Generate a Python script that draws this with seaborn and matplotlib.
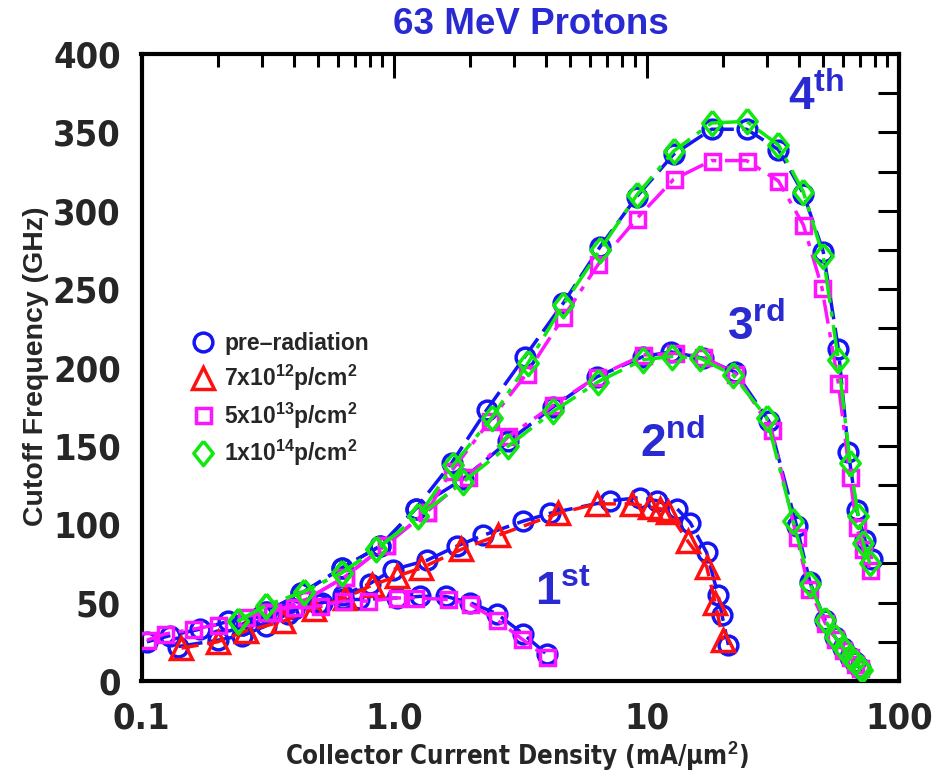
import numpy as np
import pandas as pd
import matplotlib
matplotlib.use('Agg')
import matplotlib.pyplot as plt
import seaborn as sns
from matplotlib.lines import Line2D
from matplotlib.font_manager import FontProperties, fontManager
from matplotlib.ticker import FixedLocator, FixedFormatter, NullFormatter, MultipleLocator

# ---------------- data ----------------
# 1st generation
pre1_x = [0.105, 0.13, 0.17, 0.22, 0.3, 0.4, 0.52, 0.63, 0.73, 1.03, 1.27, 1.6, 2.0, 2.55, 3.25, 4.03]
pre1_y = [25, 29, 33, 38, 42, 46, 50, 52, 52, 53, 54, 54, 50, 43, 30, 17]
m1_x = [0.105, 0.124, 0.16, 0.2, 0.26, 0.31, 0.4, 0.51, 0.63, 0.79, 1.03, 1.21, 1.64, 2.0, 2.55, 3.2, 4.03]
m1_y = [26, 30, 33, 36, 41, 44, 47, 48, 51, 51, 53, 53, 52, 49, 39, 27, 15]

# 2nd generation
pre2_x = [0.14, 0.2, 0.25, 0.31, 0.38, 0.5, 0.63, 0.8, 0.99, 1.35, 1.77, 2.26, 3.25, 4.15, 7.2, 9.4, 11.0, 13.2, 14.9, 17.3, 19.2, 19.9, 21.1]
pre2_y = [22, 26, 29, 35, 43, 49, 55, 62, 71, 77, 86, 93, 102, 107, 115, 117, 115, 110, 101, 82, 55, 42, 23]
r2_x = [0.144, 0.2, 0.26, 0.363, 0.48, 0.64, 0.816, 1.03, 1.28, 1.85, 2.59, 4.47, 6.35, 8.74, 10.3, 11.3, 12.2, 14.6, 17.3, 18.7, 20.1]
r2_y = [21, 25, 32, 38, 46, 53, 61, 67, 72, 84, 93, 107, 113, 113, 111, 110, 108, 89, 73, 50, 26]

# 3rd generation
pre3_x = [0.25, 0.31, 0.43, 0.62, 0.88, 1.22, 1.88, 2.84, 4.28, 6.35, 9.71, 12.5, 16.7, 22.5, 30.5, 39.3, 44.4, 50.9, 55.8, 60.2, 64.0, 67.0, 70.1]
pre3_y = [36, 44, 56, 72, 86, 110, 129, 153, 175, 194, 207, 210, 206, 197, 166, 99, 63, 39, 28, 21, 15, 12, 8]
m3_x = [0.33, 0.45, 0.64, 0.93, 1.35, 1.96, 2.84, 4.28, 6.35, 9.71, 13.0, 16.7, 22.5, 31.3, 39.3, 44.0, 51.0, 56.0, 60.0, 64.0, 67.0, 70.0]
m3_y = [44, 52, 66.5, 87, 108, 130, 156, 176, 194, 208, 209, 207, 196, 160, 92, 59, 37, 27, 20, 15, 11, 8]
g3_x = [0.24, 0.31, 0.44, 0.62, 0.85, 1.25, 1.88, 2.84, 4.28, 6.45, 9.71, 12.6, 16.3, 22.1, 29.9, 38.1, 44.4, 50.9, 55.8, 60.2, 64.0, 67.0, 70.1, 71.3]
g3_y = [38, 48, 57, 69, 84, 105, 127, 150, 172, 191, 205, 207, 206, 195, 168, 102, 62, 39, 28, 21, 15.5, 12, 9, 7]

# 4th generation
pre4_x = [0.25, 0.31, 0.43, 0.62, 0.88, 1.22, 1.69, 2.33, 3.30, 4.68, 6.55, 9.15, 12.8, 18.1, 24.9, 33.3, 41.8, 50.1, 57.5, 63.0, 68.0, 73.3, 77.9]
pre4_y = [36, 44, 56, 72, 86, 110, 139, 173, 207, 241, 277, 309, 336, 352, 352, 339, 311, 274, 212, 146, 109, 90, 78]
m4_x = [0.33, 0.45, 0.64, 0.93, 1.35, 1.69, 2.40, 3.35, 4.68, 6.45, 9.15, 12.8, 18.1, 24.9, 33.3, 41.8, 49.5, 57.5, 64.0, 68.0, 72.2, 76.7]
m4_y = [44, 52, 66.5, 87, 108, 134, 166, 196, 232, 266, 295, 320, 332, 332, 319, 291, 251, 190, 130, 98, 84, 71]
g4_x = [0.24, 0.31, 0.44, 0.62, 0.85, 1.25, 1.72, 2.44, 3.40, 4.68, 6.55, 9.15, 12.8, 18.1, 24.9, 33.3, 41.8, 50.1, 57.5, 64.0, 69.0, 72.2, 76.7]
g4_y = [38, 48, 57, 69, 84, 105, 138, 168, 203, 240, 275, 310, 338, 356, 357, 342, 312, 271, 205, 139, 105, 88, 75]

legend_labels = ['pre\u2013radiation', '7x10$^{12}$p/cm$^{2}$', '5x10$^{13}$p/cm$^{2}$', '1x10$^{14}$p/cm$^{2}$']
gen_labels = ['1$^{st}$', '2$^{nd}$', '3$^{rd}$', '4$^{th}$']
x_ticks = [0.1, 1, 10, 100]
x_ticklabels = ['0.1', '1.0', '10', '100']
y_ticks = [0, 50, 100, 150, 200, 250, 300, 350, 400]

# ---------------- style ----------------
sns.set_style('white')
plt.rcParams['font.family'] = ['Liberation Sans', 'DejaVu Sans']
plt.rcParams['font.weight'] = 'bold'
plt.rcParams['font.stretch'] = 'normal'
plt.rcParams['mathtext.fontset'] = 'custom'
plt.rcParams['mathtext.rm'] = 'Liberation Sans:bold'
plt.rcParams['mathtext.it'] = 'Liberation Sans:bold'
plt.rcParams['mathtext.bf'] = 'Liberation Sans:bold'
plt.rcParams['mathtext.default'] = 'bf'

# a condensed bold face if one is installed, else Liberation Sans bold
cond = [f for f in fontManager.ttflist
        if ('Narrow' in f.name or 'Condensed' in f.name or f.stretch in ('condensed', 'semi-condensed'))
        and f.weight in (700, 'bold')]
if cond:
    NARROW = dict(fname=cond[0].fname)
    narrow_ok = True
else:
    NARROW = dict(family=['Liberation Sans'])
    narrow_ok = False

wide_reg = [f for f in fontManager.ttflist if f.name == 'Liberation Sans' and f.weight in (700, 'bold')
            and f.style == 'normal' and f.stretch == 'normal']
WIDE = dict(fname=wide_reg[0].fname) if wide_reg else dict(family=['Liberation Sans'])

BLUE = '#1414f5'
RED = '#ff1010'
MAG = '#ff14ff'
GREEN = '#10e810'
LBL = '#2a2ad2'

diamond = [(0, 1), (0.8, 0), (0, -1), (-0.8, 0), (0, 1)]

fig = plt.figure(figsize=(9.44, 7.76), dpi=100)
ax = fig.add_axes([141.5 / 944, 1 - 681 / 776, (899 - 141.5) / 944, (681 - 54) / 776])

styles = {
    'pre': dict(color=BLUE, marker='o', ms=13.5, ls=(0, (7, 2.5)), z=3),
    'r': dict(color=RED, marker='^', ms=15.5, ls=(0, (5, 2.5)), z=4),
    'm': dict(color=MAG, marker='s', ms=10.8, ls=(0, (7, 2.5, 1.5, 2.5)), z=5),
    'g': dict(color=GREEN, marker=diamond, ms=17.5, ls=(0, (9, 2.5, 1.5, 2.5)), z=6),
}
MEW = 2.5

series = [
    ('pre', pre1_x, pre1_y), ('pre', pre2_x, pre2_y), ('pre', pre3_x, pre3_y), ('pre', pre4_x, pre4_y),
    ('r', r2_x, r2_y),
    ('m', m1_x, m1_y), ('m', m3_x, m3_y), ('m', m4_x, m4_y),
    ('g', g3_x, g3_y), ('g', g4_x, g4_y),
]

for key, xs, ys in series:
    st = styles[key]
    df = pd.DataFrame({'x': xs, 'y': ys})
    sns.lineplot(data=df, x='x', y='y', ax=ax, estimator=None, sort=False,
                 color=st['color'], linestyle=st['ls'], linewidth=2.5,
                 marker=st['marker'], markersize=st['ms'], markerfacecolor='none',
                 markeredgecolor=st['color'], markeredgewidth=MEW, zorder=st['z'])

ax.set_xscale('log')
ax.set_xlim(0.1, 100)
ax.set_ylim(0, 400)

ax.xaxis.set_major_locator(FixedLocator(x_ticks))
ax.xaxis.set_major_formatter(FixedFormatter(x_ticklabels))
minor = [m * d for d in (0.1, 1, 10) for m in range(2, 10)]
ax.xaxis.set_minor_locator(FixedLocator(minor))
ax.xaxis.set_minor_formatter(NullFormatter())
ax.yaxis.set_major_locator(FixedLocator(y_ticks))
ax.yaxis.set_minor_locator(MultipleLocator(25))

for s in ax.spines.values():
    s.set_linewidth(3.0)
    s.set_color('black')

ax.tick_params(axis='both', which='both', direction='in', top=True, right=True, width=2.2, color='black')
ax.tick_params(axis='x', which='major', length=17, pad=15)
ax.tick_params(axis='x', which='minor', length=9)
ax.tick_params(axis='y', which='major', length=15, pad=15)
ax.tick_params(axis='y', which='minor', length=15)

tick_size = 26 if narrow_ok else 24
for lab in ax.get_xticklabels() + ax.get_yticklabels():
    lab.set_fontproperties(FontProperties(weight='bold', size=tick_size, **NARROW))

xl_size = 18.5 if narrow_ok else 17.5
ax.set_xlabel('Collector Current Density (mA/\u03bcm$^{2}$)',
              fontproperties=FontProperties(weight='bold', size=xl_size, **NARROW))
ax.set_ylabel('Cutoff Frequency (GHz)', fontproperties=FontProperties(weight='bold', size=20.5, **WIDE))
ax.xaxis.set_label_coords((517 - 141.5) / 757.5, -(757 - 681) / 627)
ax.xaxis.label.set_va('center')
ax.yaxis.set_label_coords(-(141.5 - 36) / 757.5, (681 - 366) / 627)
ax.yaxis.label.set_va('center')

fig.text(531 / 944, 1 - 25 / 776, '63 MeV Protons', color=LBL,
         fontproperties=FontProperties(weight='bold', size=26.5, **WIDE), ha='center', va='center')

# generation labels
gen_pos = [(535, 605), (640, 457), (727, 340), (788, 110)]
for txt, (px, py) in zip(gen_labels, gen_pos):
    fig.text(px / 944, 1 - py / 776, txt, color=LBL,
             fontproperties=FontProperties(weight='bold', size=33, **WIDE), ha='left', va='baseline')

# legend
handles = [
    Line2D([], [], ls='none', marker='o', ms=13.5, mfc='none', mec=BLUE, mew=MEW),
    Line2D([], [], ls='none', marker='^', ms=15.5, mfc='none', mec=RED, mew=MEW),
    Line2D([], [], ls='none', marker='s', ms=10.8, mfc='none', mec=MAG, mew=MEW),
    Line2D([], [], ls='none', marker=diamond, ms=17.5, mfc='none', mec=GREEN, mew=MEW),
]
leg = ax.legend(handles, legend_labels, loc='upper left', bbox_to_anchor=(192 / 944, 1 - 332 / 776),
                bbox_transform=fig.transFigure, frameon=False, handlelength=1.0,
                handletextpad=0.4, labelspacing=0.33, borderpad=0, borderaxespad=0,
                prop=FontProperties(weight='bold', size=16.5, **WIDE))

fig.savefig('out.png', dpi=100, facecolor='white')
